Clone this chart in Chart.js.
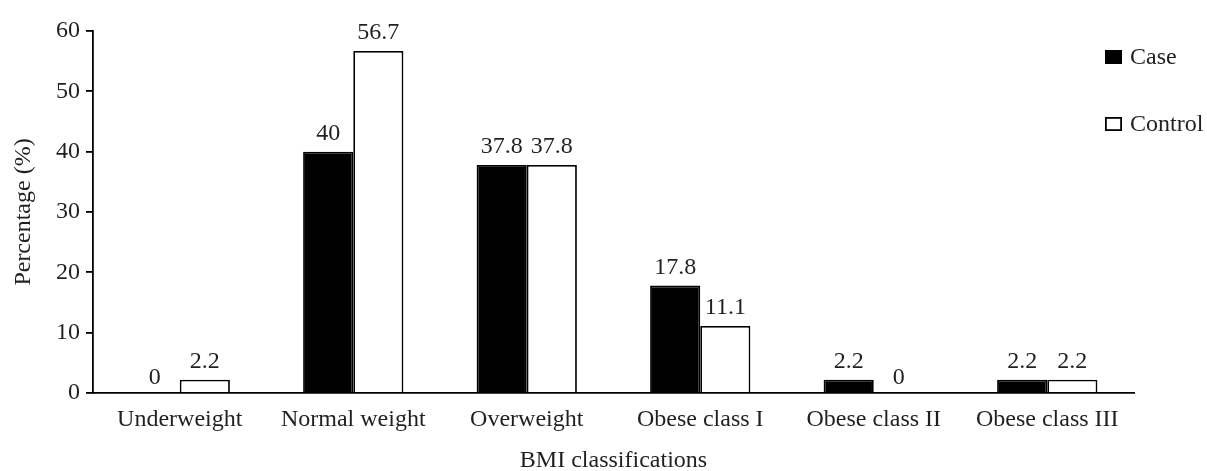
<!DOCTYPE html>
<html>
<head>
<meta charset="utf-8">
<script src="https://cdn.jsdelivr.net/npm/chart.js@4.4.1/dist/chart.umd.min.js"></script>
<style>
  html, body { margin: 0; padding: 0; background: #ffffff; }
  #wrap { width: 1207px; height: 471px; position: relative; }
</style>
</head>
<body>
<div id="wrap"><canvas id="c" width="1207" height="471"></canvas></div>
<script>
const categories = ["Underweight", "Normal weight", "Overweight", "Obese class I", "Obese class II", "Obese class III"];
const caseValues = [0, 40, 37.8, 17.8, 2.2, 2.2];
const controlValues = [2.2, 56.7, 37.8, 11.1, 0, 2.2];
const seriesNames = ["Case", "Control"];
const yTicks = [0, 10, 20, 30, 40, 50, 60];

const FONT = "'Liberation Serif', 'Times New Roman', serif";
const FS = 24;
const TXT = "#231f20";

const valueLabels = {
  id: 'valueLabels',
  afterDatasetsDraw(chart) {
    const ctx = chart.ctx;
    ctx.save();
    ctx.font = FS + "px " + FONT;
    ctx.fillStyle = TXT;
    ctx.textAlign = 'center';
    ctx.textBaseline = 'alphabetic';
    chart.data.datasets.forEach((ds, i) => {
      const meta = chart.getDatasetMeta(i);
      meta.data.forEach((bar, j) => {
        const v = ds.data[j];
        const off = v === 0 ? 9 : 12;
        ctx.fillText(String(v), bar.x, bar.y - off);
      });
    });
    ctx.restore();
  }
};

const customLegend = {
  id: 'customLegend',
  afterDraw(chart) {
    const ctx = chart.ctx;
    ctx.save();
    ctx.font = FS + "px " + FONT;
    ctx.textBaseline = 'alphabetic';
    ctx.textAlign = 'left';
    const x0 = 1105, ys = [50, 117];
    chart.data.datasets.forEach((ds, i) => {
      const y = ys[i];
      ctx.fillStyle = ds.backgroundColor;
      ctx.fillRect(x0, y, 17, 14);
      ctx.strokeStyle = '#000';
      ctx.lineWidth = 1.8;
      ctx.strokeRect(x0 + 0.9, y + 0.9, 15.2, 12.2);
      ctx.fillStyle = TXT;
      ctx.fillText(ds.label, x0 + 25, y + 13.5);
    });
    ctx.restore();
  }
};

new Chart(document.getElementById('c'), {
  type: 'bar',
  data: {
    labels: categories,
    datasets: [
      { label: seriesNames[0], data: caseValues, backgroundColor: '#000000', borderColor: '#000000', borderWidth: 1.8, borderSkipped: 'start' },
      { label: seriesNames[1], data: controlValues, backgroundColor: '#ffffff', borderColor: '#000000', borderWidth: 1.8, borderSkipped: 'start' }
    ]
  },
  options: {
    responsive: false,
    animation: false,
    devicePixelRatio: 1,
    layout: { padding: { top: 31, right: 73, left: 0, bottom: 0 } },
    datasets: { bar: { categoryPercentage: 0.578, barPercentage: 1.0 } },
    plugins: { legend: { display: false }, tooltip: { enabled: false } },
    scales: {
      x: {
        grid: { display: false, drawTicks: false },
        border: { display: true, color: '#000', width: 1.8 },
        ticks: { color: TXT, font: { family: FONT, size: FS }, padding: 12, maxRotation: 0, autoSkip: false },
        title: { display: true, text: 'BMI classifications', color: TXT, font: { family: FONT, size: FS }, padding: { top: 15, bottom: -4 } },
        afterFit(s) { s.height = 78; }
      },
      y: {
        min: 0, max: 60,
        afterBuildTicks(s) { s.ticks = yTicks.map(v => ({ value: v })); },
        grid: { display: true, drawOnChartArea: false, drawTicks: true, tickLength: 7, color: '#000', lineWidth: 1.8 },
        border: { display: true, color: '#000', width: 1.8 },
        ticks: { color: TXT, font: { family: FONT, size: FS }, padding: 6 },
        title: { display: true, text: 'Percentage (%)', color: TXT, font: { family: FONT, size: FS }, padding: { top: 9, bottom: 0 } },
        afterFit(s) { s.width = 93; }
      }
    }
  },
  plugins: [valueLabels, customLegend]
});
</script>
</body>
</html>
